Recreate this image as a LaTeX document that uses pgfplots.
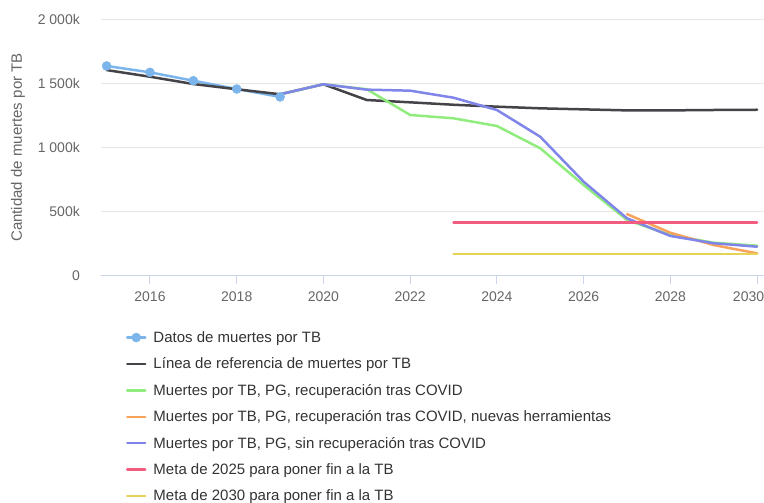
\documentclass[border=0pt]{standalone}
\usepackage{pgfplots}
\pgfplotsset{compat=1.18}
\usepackage{fontspec}
\setmainfont{Liberation Sans}
\definecolor{cA}{HTML}{7CB5EC}
\definecolor{cB}{HTML}{434348}
\definecolor{cC}{HTML}{90ED7D}
\definecolor{cD}{HTML}{F7A35C}
\definecolor{cE}{HTML}{8085E9}
\definecolor{cF}{HTML}{F15C80}
\definecolor{cG}{HTML}{E4D354}
\definecolor{axisc}{HTML}{CCD6EB}
\definecolor{gridc}{HTML}{E6E6E6}
\definecolor{labc}{HTML}{666666}
\definecolor{legc}{HTML}{333333}
\begin{document}
\begin{tikzpicture}
\useasboundingbox (0pt,0pt) rectangle (764pt,-503pt);
\begin{axis}[
  at={(101pt,-275.5pt)}, anchor=south west,
  scale only axis, width=663pt, height=256pt,
  xmin=2014.87, xmax=2030.16, ymin=0, ymax=2000,
  axis x line*=bottom, axis y line*=left,
  x axis line style={draw=axisc, line width=1pt, -},
  y axis line style={draw=none},
  tick align=outside, major tick length=8pt,
  xtick={2016,2018,...,2030},
  xticklabels={2016,2018,2020,2022,2024,2026,2028,\makebox[0pt]{\hspace*{-17pt}2030}},
  xtick style={draw=axisc, line width=1pt},
  ytick={0,500,1000,1500,2000},
  yticklabels={0,500k,1 000k,1 500k,2 000k},
  ytick style={draw=none},
  ymajorgrids, grid style={gridc, line width=1pt},
  ticklabel style={font=\fontsize{14}{16}\selectfont, text=labc},
  xticklabel style={anchor=north, inner sep=0pt, yshift=-8pt},
  yticklabel style={anchor=east, inner sep=0pt, xshift=-13pt},
  ylabel={Cantidad de muertes por TB},
  every axis y label/.style={at={(axis description cs:-0.1252,0.5)}, rotate=90, anchor=center,
    font=\fontsize{15}{18}\selectfont, text=labc},
  legend style={at={(0.0377,-0.219)}, anchor=north west, draw=none, fill=none,
    inner sep=0pt, outer sep=0pt, row sep=12.4pt,
    font=\fontsize{15}{18}\selectfont, text=legc,
    nodes={inner sep=0pt, text height=11pt, text depth=3pt, anchor=base west},
    /tikz/every odd column/.append style={column sep=7pt}},
  legend cell align=left,
  legend image code/.code={\draw[mark repeat=2, mark phase=2, #1] plot coordinates {(0pt,5pt) (9pt,5pt) (18pt,5pt)};},
  every axis plot/.append style={line width=2.5pt, line join=round, line cap=round},
]
\addplot[cA, mark=*, mark size=4.5pt, mark options={solid, fill=cA, draw=cA, line width=0.5pt}] coordinates {
 (2015,1637)(2016,1587)(2017,1522)(2018,1457)(2019,1395)};
\addlegendentry{Datos de muertes por TB}
\addplot[cB] coordinates {
 (2015,1605)(2016,1553)(2017,1496)(2018,1455)(2019,1416)(2020,1494)(2021,1371)(2022,1353)
 (2023,1334)(2024,1319)(2025,1306)(2026,1298)(2027,1290)(2028,1290)(2029,1293)(2030,1295)};
\addlegendentry{Línea de referencia de muertes por TB}
\addplot[cC] coordinates {
 (2019,1416)(2020,1494)(2021,1455)(2022,1254)(2023,1228)(2024,1168)(2025,994)(2026,707)
 (2027,434)(2028,316)(2029,256)(2030,233)};
\addlegendentry{Muertes por TB, PG, recuperación tras COVID}
\addplot[cD] coordinates {
 (2027,480)(2028,334)(2029,238)(2030,173)};
\addlegendentry{Muertes por TB, PG, recuperación tras COVID, nuevas herramientas}
\addplot[cE] coordinates {
 (2019,1416)(2020,1494)(2021,1452)(2022,1444)(2023,1389)(2024,1293)(2025,1084)(2026,733)
 (2027,447)(2028,309)(2029,252)(2030,225)};
\addlegendentry{Muertes por TB, PG, sin recuperación tras COVID}
\addplot[cF] coordinates {(2023,416)(2030,416)};
\addlegendentry{Meta de 2025 para poner fin a la TB}
\addplot[cG] coordinates {(2023,168)(2030,168)};
\addlegendentry{Meta de 2030 para poner fin a la TB}
\end{axis}
\end{tikzpicture}
\end{document}
